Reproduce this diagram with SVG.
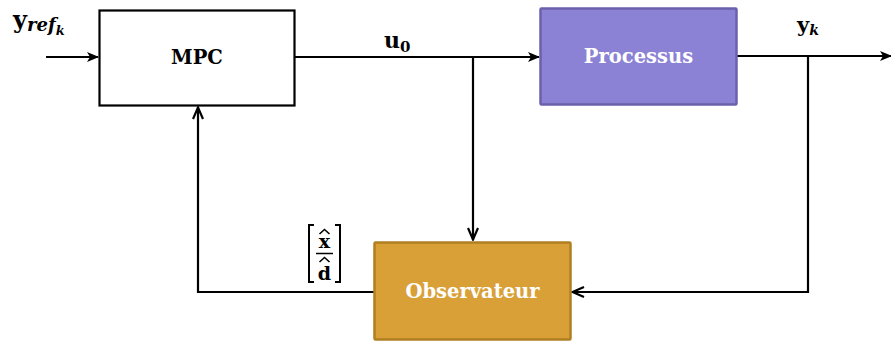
<svg xmlns="http://www.w3.org/2000/svg" width="891" height="341" viewBox="0 0 891 341">
<defs>
<marker id="ah" viewBox="0 0 12 10" refX="11" refY="5" markerWidth="12" markerHeight="10" markerUnits="userSpaceOnUse" orient="auto">
<path d="M0,0 L12,5 L0,10 L3,5 Z" fill="#000"/>
</marker>
<marker id="av" viewBox="0 0 14 12" refX="13" refY="6" markerWidth="14" markerHeight="12" markerUnits="userSpaceOnUse" orient="auto">
<path d="M1,1 L12.5,6 L1,11" fill="none" stroke="#000" stroke-width="2.2"/>
</marker>
</defs>
<style>
.ln{fill:none;stroke:#000;stroke-width:2.2}
.lbl{font-family:"DejaVu Serif","Liberation Serif",serif;font-weight:bold;fill:#000}
.bx{font-family:"DejaVu Serif","Liberation Serif",serif;font-weight:bold;font-size:19.5px;text-anchor:middle}
.hat{fill:none;stroke:#000;stroke-width:1.6}
</style>
<rect width="891" height="341" fill="#fff"/>
<g id="connectors">
<path class="ln" d="M46,57 H98" marker-end="url(#ah)"/>
<path class="ln" d="M295,57 H539" marker-end="url(#ah)"/>
<path class="ln" d="M473,58 V240" marker-end="url(#av)"/>
<path class="ln" d="M737,56 H891" marker-end="url(#ah)"/>
<path class="ln" d="M808,57 V292 H572" marker-end="url(#av)"/>
<path class="ln" d="M374,292 H198 V107" marker-end="url(#av)"/>
</g>
<g id="mpc">
<rect x="99.5" y="10.5" width="195" height="95" fill="#fff" stroke="#000" stroke-width="2.2"/>
<text class="bx" x="197" y="64" fill="#000">MPC</text>
</g>
<g id="processus">
<rect x="540.5" y="8.5" width="196" height="96" fill="#8B82D5" stroke="#6B60AA" stroke-width="2.5" rx="1"/>
<text class="bx" x="638.5" y="63" fill="#fff">Processus</text>
</g>
<g id="observateur">
<rect x="374.5" y="242.5" width="196" height="97" fill="#D9A037" stroke="#B07F22" stroke-width="2.5" rx="1"/>
<text class="bx" x="472.5" y="298" fill="#fff">Observateur</text>
</g>
<g id="labels">
<text class="lbl" x="13" y="28" font-size="24">y<tspan font-size="18" font-style="italic" dy="3">ref</tspan><tspan font-size="13" font-style="italic" dy="4">k</tspan></text>
<text class="lbl" x="384" y="48" font-size="22">u<tspan font-size="15" dy="4">0</tspan></text>
<text class="lbl" x="797" y="32" font-size="21">y<tspan font-size="14" font-style="italic" dy="3">k</tspan></text>
<g id="matrix">
<path d="M314,225 H309 V282 H314" fill="none" stroke="#000" stroke-width="2"/>
<path d="M335,225 H340 V282 H335" fill="none" stroke="#000" stroke-width="2"/>
<path class="hat" d="M319.5,234 L324.5,229.5 L329.5,234"/>
<text class="lbl" x="324.5" y="248" font-size="19" text-anchor="middle">x</text>
<line x1="316" y1="253.5" x2="333" y2="253.5" stroke="#000" stroke-width="1.5"/>
<path class="hat" d="M319.5,262 L324.5,257.5 L329.5,262"/>
<text class="lbl" x="324.5" y="280" font-size="19" text-anchor="middle">d</text>
</g>
</g>
</svg>
